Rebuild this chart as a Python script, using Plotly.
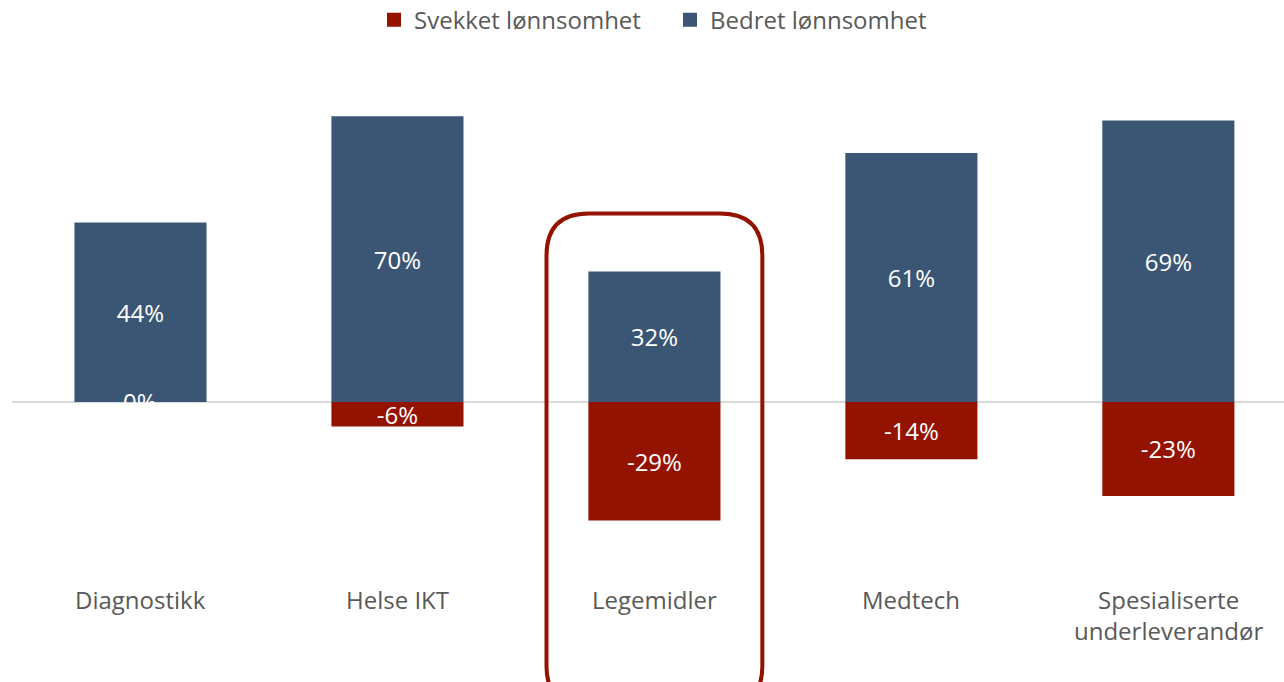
import plotly.graph_objects as go

categories = ["Diagnostikk", "Helse IKT", "Legemidler", "Medtech", "Spesialiserte<br>underleverandør"]
svekket = [0, -6, -29, -14, -23]
bedret = [44, 70, 32, 61, 69]
svekket_labels = ["0%", "-6%", "-29%", "-14%", "-23%"]
bedret_labels = ["44%", "70%", "32%", "61%", "69%"]
series_names = ["Svekket lønnsomhet", "Bedret lønnsomhet"]
highlight = "Legemidler"

RED = "#941200"
BLUE = "#3A5674"
GRAY = "#595959"
FONT = "Open Sans"
FS = 24

x = list(range(len(categories)))

fig = go.Figure()
for vals, labels, col, nm in [(svekket, svekket_labels, RED, series_names[0]),
                              (bedret, bedret_labels, BLUE, series_names[1])]:
    fig.add_trace(go.Bar(
        x=x, y=vals, name=nm, marker=dict(color=col, line=dict(width=0)),
        text=labels, textposition="inside", insidetextanchor="middle",
        constraintext="none", textfont=dict(color="white", size=FS, family=FONT),
        width=0.514, hoverinfo="skip", showlegend=False,
    ))
# legend entries with larger square swatches
for col, nm in [(RED, series_names[0]), (BLUE, series_names[1])]:
    fig.add_trace(go.Scatter(x=[None], y=[None], mode="markers", name=nm,
                             marker=dict(symbol="square", size=14, color=col),
                             hoverinfo="skip"))

annotations = []
# zero-height bars: label sits on the zero line
for i, (v, t) in enumerate(zip(svekket, svekket_labels)):
    if v == 0:
        annotations.append(dict(x=i, y=0, text=t, showarrow=False, xref="x", yref="y",
                                font=dict(color="white", size=FS, family=FONT),
                                yanchor="middle", yshift=1))
for i, c in enumerate(categories):
    annotations.append(dict(x=i, y=-48.9, text=c, showarrow=False, xref="x", yref="y",
                            font=dict(color=GRAY, size=FS, family=FONT),
                            yanchor="top", yshift=21))

# rounded highlight frame around the highlighted category
hi = categories.index(highlight)
x0, x1 = hi - 0.42, hi + 0.42
y0, y1 = -75, 46.2
rx, ry = 0.165, 10.3
path = (f"M {x0+rx},{y1} L {x1-rx},{y1} Q {x1},{y1} {x1},{y1-ry} "
        f"L {x1},{y0+ry} Q {x1},{y0} {x1-rx},{y0} L {x0+rx},{y0} "
        f"Q {x0},{y0} {x0},{y0+ry} L {x0},{y1-ry} Q {x0},{y1} {x0+rx},{y1} Z")
shapes = [dict(type="path", path=path, xref="x", yref="y",
               line=dict(color=RED, width=4), fillcolor="rgba(0,0,0,0)")]

fig.update_layout(
    width=1284, height=682,
    margin=dict(l=12, r=0, t=60, b=0, autoexpand=False),
    barmode="relative",
    plot_bgcolor="white", paper_bgcolor="white",
    font=dict(family=FONT, color=GRAY),
    showlegend=True,
    legend=dict(orientation="h", x=0.2846, xanchor="left", y=1.064, yanchor="middle",
                font=dict(size=FS, color=GRAY, family=FONT), itemwidth=30,
                entrywidth=251, entrywidthmode="pixels",
                traceorder="normal"),
    xaxis=dict(range=[-0.5, 4.45], showticklabels=False, showgrid=False,
               zeroline=False, showline=False, ticks=""),
    yaxis=dict(range=[-68.6, 83.8], showticklabels=False, showgrid=False,
               zeroline=True, zerolinecolor="#D9D9D9", zerolinewidth=1.5,
               showline=False, ticks=""),
    annotations=annotations,
    shapes=shapes,
)

fig.write_html("out.html", config={"displayModeBar": False},
               post_script="document.body.style.margin='0';")
